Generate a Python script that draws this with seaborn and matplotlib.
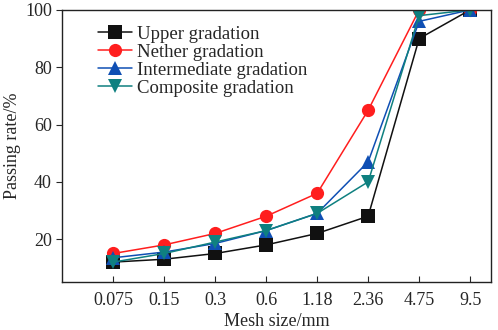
import pandas as pd
import numpy as np
import matplotlib
matplotlib.use('Agg')
import matplotlib.pyplot as plt
import seaborn as sns

sns.set_style('ticks')
plt.rcParams['font.family'] = ['Liberation Serif', 'DejaVu Serif']

MESH = ['0.075', '0.15', '0.3', '0.6', '1.18', '2.36', '4.75', '9.5']
UPPER = [12, 13, 15, 18, 22, 28, 90, 100]
NETHER = [15, 18, 22, 28, 36, 65, 100, 100]
INTERMEDIATE = [13.5, 15.5, 18.5, 23, 29, 47, 96, 100]
COMPOSITE = [12, 15, 19, 23, 29, 40, 98, 100]

SERIES = ['Upper gradation', 'Nether gradation',
          'Intermediate gradation', 'Composite gradation']
COLORS = ['#111111', '#ff1e1e', '#0f4fb4', '#0f8080']
MARKERS = ['s', 'o', '^', 'v']

rows = []
for name, vals in zip(SERIES, [UPPER, NETHER, INTERMEDIATE, COMPOSITE]):
    for i, v in enumerate(vals):
        rows.append({'pos': i, 'value': v, 'series': name})
df = pd.DataFrame(rows)

fig, ax = plt.subplots(figsize=(4.98, 3.30), dpi=100)
sns.lineplot(data=df, x='pos', y='value', hue='series', style='series',
             hue_order=SERIES, style_order=SERIES,
             palette=dict(zip(SERIES, COLORS)),
             markers=dict(zip(SERIES, MARKERS)), dashes=False,
             markersize=9.5, markeredgewidth=0, linewidth=1.1, ax=ax)

ax.set_xlim(-1, 7.4)
ax.set_ylim(5, 100)
ax.set_xticks(range(len(MESH)))
ax.set_xticklabels(MESH)
ax.set_yticks([20, 40, 60, 80, 100])
ax.tick_params(axis='x', direction='in', length=4, labelsize=13, pad=7)
ax.tick_params(axis='y', direction='out', length=4, labelsize=13)
ax.set_xlabel('Mesh size/mm', fontsize=13, labelpad=3)
ax.set_ylabel('Passing rate/%', fontsize=13, labelpad=3)
for s in ax.spines.values():
    s.set_visible(True)
    s.set_linewidth(1.0)
    s.set_color('#222222')

leg = ax.legend(loc='upper left', bbox_to_anchor=(0.065, 0.97), frameon=False,
                fontsize=13.5, handlelength=1.85, handletextpad=0.25,
                labelspacing=0.05, borderaxespad=0)

plt.subplots_adjust(left=0.125, right=0.985, bottom=0.145, top=0.97)
fig.savefig('out.png', dpi=100)
